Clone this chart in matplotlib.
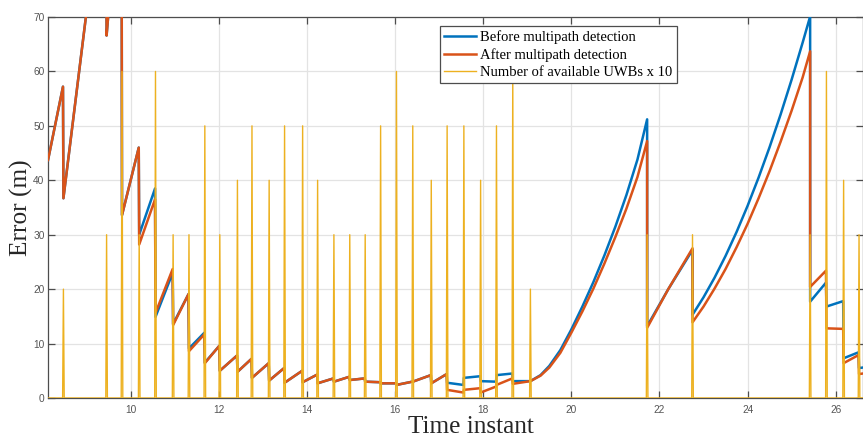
import numpy as np
import matplotlib
matplotlib.use("Agg")
import matplotlib.pyplot as plt

# ---------------- data ----------------
# error curves: time instants (duplicated time = vertical reset at a UWB update)
t_err = [8.12, 8.46, 8.47, 8.98, 9.44, 9.45, 9.49, 9.79, 9.80,
         10.18, 10.19, 10.55, 10.56, 10.95, 10.96, 11.31, 11.32, 11.67, 11.68,
         12.01, 12.02, 12.41, 12.42, 12.74, 12.75, 13.13, 13.14, 13.48, 13.49,
         13.89, 13.90, 14.23, 14.24, 14.60, 14.61, 14.96, 14.97, 15.31, 15.32,
         15.66, 15.67, 16.02, 16.03, 16.39, 16.40, 16.81, 16.82, 17.17, 17.18,
         17.55, 17.56, 17.93, 17.94, 18.29, 18.30, 18.66, 18.67, 19.07,
         19.30, 19.50, 19.75, 20.00, 20.25, 20.50, 20.75, 21.00, 21.25, 21.50, 21.72,
         21.72, 22.20, 22.75,
         22.75, 23.00, 23.25, 23.50, 23.75, 24.00, 24.25, 24.50, 24.75, 25.00, 25.25, 25.42,
         25.42, 25.78, 25.79, 26.17, 26.18, 26.52, 26.53, 26.62]
err_before = [43.7, 57.2, 36.7, 70.0, 98.0, 66.6, 70.5, 95.0, 33.6,
              46.0, 30.0, 38.5, 14.9, 23.0, 13.6, 19.1, 9.1, 12.0, 6.5,
              9.6, 5.0, 7.8, 4.8, 7.2, 3.7, 6.4, 3.2, 5.5, 2.8,
              5.0, 2.9, 4.3, 2.7, 3.6, 3.0, 3.9, 3.3, 3.6, 3.0,
              2.9, 2.7, 2.7, 2.4, 3.0, 3.0, 4.2, 2.7, 4.4, 2.8,
              2.4, 3.7, 4.0, 3.1, 3.0, 4.2, 4.5, 3.1, 3.1,
              4.2, 5.9, 8.8, 12.6, 16.8, 21.3, 26.2, 31.5, 37.3, 43.8, 51.2,
              13.2, 20.0, 27.2,
              15.3, 18.5, 22.1, 26.1, 30.5, 35.3, 40.5, 46.1, 52.1, 58.5, 65.3, 70.1,
              17.7, 21.2, 16.8, 17.8, 7.3, 8.4, 5.5, 5.6]
err_after = [43.7, 57.2, 36.7, 70.0, 98.0, 66.6, 70.5, 95.0, 33.6,
             46.0, 28.2, 36.5, 15.6, 23.7, 13.4, 19.1, 8.6, 11.7, 6.4,
             9.6, 5.0, 7.8, 4.8, 7.2, 3.7, 6.4, 3.2, 5.5, 2.8,
             5.0, 2.9, 4.3, 2.7, 3.6, 3.0, 3.9, 3.3, 3.6, 3.0,
             2.9, 2.7, 2.7, 2.4, 3.0, 3.0, 4.2, 2.7, 4.4, 1.5,
             1.0, 1.5, 1.8, 1.0, 2.1, 2.4, 3.6, 2.6, 3.1,
             4.1, 5.6, 8.3, 12.0, 15.9, 20.1, 24.7, 29.6, 34.8, 40.6, 47.2,
             12.9, 20.0, 27.5,
             13.9, 16.8, 20.1, 23.7, 27.7, 32.0, 36.7, 41.7, 47.1, 52.8, 58.9, 63.7,
             20.4, 23.4, 12.8, 12.7, 6.4, 7.9, 4.4, 4.5]

# number of available UWBs x 10 (nonzero only at update instants)
t_uwb = [8.47, 9.45, 9.80, 10.19, 10.56, 10.96, 11.32, 11.68, 12.02, 12.42,
         12.75, 13.14, 13.49, 13.90, 14.24, 14.61, 14.97, 15.32, 15.67, 16.03,
         16.40, 16.82, 17.18, 17.56, 17.94, 18.30, 18.67, 19.07, 21.72, 22.75,
         25.42, 25.79, 26.18, 26.53]
n_uwb_x10 = [20, 30, 60, 30, 60, 30, 30, 50, 30, 40,
             50, 40, 50, 50, 40, 30, 30, 30, 50, 60,
             50, 40, 50, 50, 40, 50, 60, 20, 30, 30,
             30, 60, 40, 30]

x_ticks = [10, 12, 14, 16, 18, 20, 22, 24, 26]
y_ticks = [0, 10, 20, 30, 40, 50, 60, 70]
x_range = (8.12, 26.62)
y_range = (0, 70)

labels = ["Before multipath detection", "After multipath detection",
          "Number of available UWBs x 10"]

# ---------------- figure ----------------
W, H = 863, 438
fig = plt.figure(figsize=(W / 100, H / 100), dpi=100)
ax = fig.add_axes([48 / W, 40 / H, 815 / W, 381 / H])

c_blue, c_orange, c_yellow = "#0072BD", "#D95319", "#EDB120"

ax.plot(t_err, err_before, color=c_blue, lw=1.8, label=labels[0], zorder=3)
ax.plot(t_err, err_after, color=c_orange, lw=1.8, label=labels[1], zorder=4)

# build spike signal from the UWB arrays
d = 0.018
xs = [x_range[0]]
ys = [0.0]
for t, h in zip(t_uwb, n_uwb_x10):
    xs += [t - d, t, t + d]
    ys += [0.0, h, 0.0]
xs.append(x_range[1])
ys.append(0.0)
ax.plot(xs, ys, color=c_yellow, lw=1.0, label=labels[2], zorder=5)

ax.set_xlim(*x_range)
ax.set_ylim(*y_range)
ax.set_xticks(x_ticks)
ax.set_yticks(y_ticks)

spine_c = "#4d4d4d"
for s in ax.spines.values():
    s.set_color(spine_c)
    s.set_linewidth(0.9)
ax.tick_params(direction="in", length=5, width=0.9, color=spine_c,
               top=True, right=True, labelsize=7.3, labelcolor="#555555")
ax.tick_params(axis="x", pad=5)
ax.tick_params(axis="y", pad=2.5)
for lab in ax.get_xticklabels() + ax.get_yticklabels():
    lab.set_fontfamily("Liberation Sans")

ax.grid(True, color="#e3e3e3", lw=0.9)
ax.set_axisbelow(True)

ax.set_xlabel("Time instant", fontfamily="Liberation Serif", fontsize=18.2, color="#262626")
ax.set_ylabel("Error (m)", fontfamily="Liberation Serif", fontsize=18.2, color="#262626")
ax.xaxis.set_label_coords(0.519, -0.046)
ax.yaxis.set_label_coords(-0.019, 0.5)

leg = ax.legend(loc="upper left", bbox_to_anchor=(0.481, 0.977), borderaxespad=0,
                prop={"family": "Liberation Serif", "size": 10.5},
                fancybox=False, framealpha=1, edgecolor=spine_c,
                borderpad=0.3, handlelength=2.2, handletextpad=0.25,
                labelspacing=0.28)
leg.get_frame().set_linewidth(0.9)
leg.set_zorder(10)

fig.savefig("out.png", dpi=100)
